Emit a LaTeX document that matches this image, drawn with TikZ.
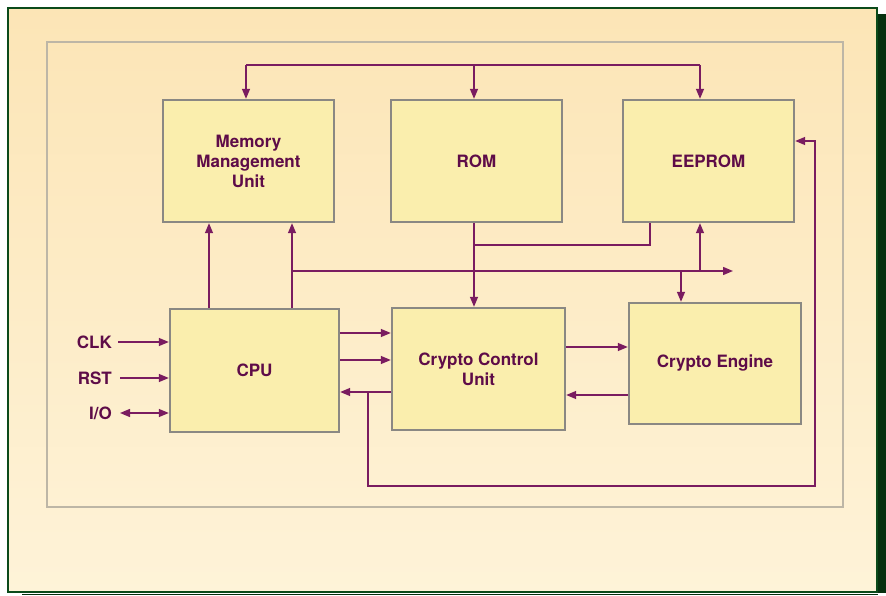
\documentclass[tikz,border=0pt]{standalone}
\usepackage{fontspec}
\setmainfont{TeX Gyre Heros}
\usetikzlibrary{arrows.meta,calc}
\definecolor{frameg}{HTML}{0B4A1A}
\definecolor{shadowg}{HTML}{06300F}
\definecolor{bgtop}{HTML}{FCE5B6}
\definecolor{bgbot}{HTML}{FEF3D8}
\definecolor{innerg}{HTML}{BDB6A6}
\definecolor{boxfill}{HTML}{FAEEAD}
\definecolor{boxline}{HTML}{8A8883}
\definecolor{txt}{HTML}{5E0C48}
\definecolor{wire}{HTML}{7A1C60}
\tikzset{
  box/.style={draw=boxline, line width=2.4pt, fill=boxfill, align=center,
    font=\fontsize{17}{20}\selectfont\bfseries, text=txt, inner sep=0pt},
  lbl/.style={font=\fontsize{17}{20}\selectfont\bfseries, text=txt, inner sep=0pt},
  wireline/.style={draw=wire, line width=1.4pt},
  arr/.style={wireline, -{Triangle[length=10pt,width=8pt]}},
  darr/.style={wireline, {Triangle[length=10pt,width=8pt]}-{Triangle[length=10pt,width=8pt]}},
}
\begin{document}
\begin{tikzpicture}[x=1pt,y=-1pt]
\useasboundingbox (0,0) rectangle (886,596);
% outer frame with shadow
\fill[shadowg] (877,14) rectangle (886,593);
\draw[shadowg, line width=1.5pt] (22,594.5) -- (878,594.5);
\shade[top color=bgtop, bottom color=bgbot] (8,8) rectangle (877,592);
\draw[frameg, line width=2pt] (8,8) rectangle (877,592);
% inner frame
\draw[innerg, line width=2pt] (47,42) rectangle (843,507);

% boxes
\node[box, minimum width=171pt, minimum height=122pt] (mmu) at (248.5,161) {Memory\\Management\\Unit};
\node[box, minimum width=171pt, minimum height=122pt] (rom) at (476.5,161) {ROM};
\node[box, minimum width=171pt, minimum height=122pt] (eeprom) at (708.5,161) {EEPROM};
\node[box, minimum width=169pt, minimum height=123pt] (cpu) at (254.5,370.5) {CPU};
\node[box, minimum width=173pt, minimum height=122pt] (ccu) at (478.5,369) {Crypto Control\\Unit};
\node[box, minimum width=172pt, minimum height=121pt] (ce) at (715,363.5) {Crypto Engine};

% side labels
\node[lbl, anchor=east] (clk) at (112,342) {CLK};
\node[lbl, anchor=east] (rst) at (112,378) {RST};
\node[lbl, anchor=east] (io) at (112,413) {I/O};

% helper coordinates
\coordinate (bus) at (474,65);
\coordinate (j1) at (474,245);
\coordinate (hb) at (292,271);
\coordinate (hbend) at (733,271);
\coordinate (m1) at (209,271);
\coordinate (e1) at (700,271);
\coordinate (c1) at (681,271);
\coordinate (r1) at (360,333);
\coordinate (r2) at (360,360);
\coordinate (r3) at (360,392);
\coordinate (lp) at (368,392);
\coordinate (lb) at (368,486);
\coordinate (lr) at (815,141);
\coordinate (k1) at (600,347);
\coordinate (k2) at (600,395);

% top bus
\draw[wireline] ([xshift=-2.5pt]mmu.north |- bus) -- ([xshift=-8.5pt]eeprom.north |- bus);
\draw[arr] ([xshift=-2.5pt]mmu.north |- bus) -- ([xshift=-2.5pt]mmu.north);
\draw[arr] (bus) -- (rom.north -| bus);
\draw[arr] ([xshift=-8.5pt]eeprom.north |- bus) -- ([xshift=-8.5pt]eeprom.north);

% ROM -> CCU and EEPROM tap
\draw[arr] (rom.south -| bus) -- (ccu.north -| bus);
\draw[wireline] ([xshift=-58.5pt]eeprom.south) |- (j1);

% horizontal bus from CPU
\draw[arr] (hb) -- (hbend);
\draw[arr] (cpu.north -| hb) -- (mmu.south -| hb);
\draw[arr] (cpu.north -| m1) -- (mmu.south -| m1);
\draw[arr] (e1) -- (eeprom.south -| e1);
\draw[arr] (c1) -- (ce.north -| c1);

% CPU <-> CCU
\draw[arr] (cpu.east |- r1) -- (ccu.west |- r1);
\draw[arr] (cpu.east |- r2) -- (ccu.west |- r2);
\draw[arr] (ccu.west |- r3) -- (cpu.east |- r3);

% loop to EEPROM
\draw[arr] (lp) -- (lb) -| (lr) -- (eeprom.east |- lr);

% CCU <-> CE
\draw[arr] (ccu.east |- k1) -- (ce.west |- k1);
\draw[arr] (ce.west |- k2) -- (ccu.east |- k2);

% external signals
\draw[arr] ([xshift=6pt]clk.east) -- (cpu.west |- clk.east);
\draw[arr] ([xshift=8pt]rst.east) -- (cpu.west |- rst.east);
\draw[darr] ([xshift=8pt]io.east) -- (cpu.west |- io.east);
\end{tikzpicture}
\end{document}
